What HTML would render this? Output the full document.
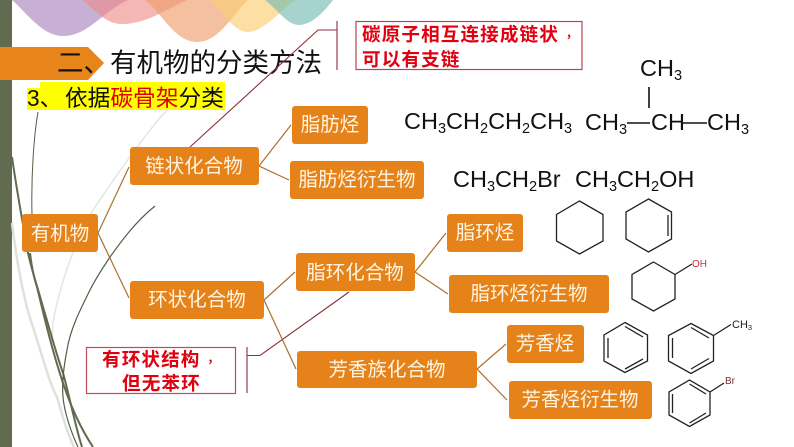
<!DOCTYPE html>
<html><head><meta charset="utf-8"><style>
html,body{margin:0;padding:0;background:#fff;width:794px;height:447px;overflow:hidden}
svg{display:block}
text{font-family:"Liberation Sans","Noto Sans CJK SC",sans-serif}
.n{fill:#fff5e4;font-size:19.5px;text-anchor:middle}
.r{fill:#e0000f;font-size:18.6px;font-weight:700;letter-spacing:1.1px}
.d{font-family:"Noto Sans CJK TC",sans-serif;font-size:12px}
.c{fill:#111;font-size:23.5px}
.c tspan.s{font-size:14.5px}
.b{fill:#e5831a}
.l{stroke:#a8702a;stroke-width:1.2;fill:none}
.m{stroke:#222;stroke-width:1.3;fill:none}
</style></head><body>
<svg width="794" height="447" viewBox="0 0 794 447" xmlns="http://www.w3.org/2000/svg">
<rect width="794" height="447" fill="#fff"/>
<!-- top decorative waves -->
<path d="M12 0C26 12 42 36 63 36C88 36 102 12 128 0Z" fill="#a77fbb" opacity=".62"/>
<path d="M82 0C94 8 104 24 122 24C146 24 165 10 187 0Z" fill="#ee8a86" opacity=".62"/>
<path d="M145 0C160 10 174 42 197 42C220 42 234 12 248 0Z" fill="#ee9f6f" opacity=".66"/>
<path d="M210 0C222 8 232 32 248 32C264 32 283 8 295 0Z" fill="#f9cf73" opacity=".66"/>
<path d="M265 0C276 8 287 25 299 25C313 25 327 8 333 0Z" fill="#6fb8af" opacity=".62"/>
<!-- left bar and curves -->
<rect x="0" y="0" width="12" height="447" fill="#616b4f"/>
<g fill="none">
<path d="M12 223C17 265 25 305 33 327C42 355 50 385 57 397C62 415 68 435 74 447" stroke="#dfe2da" stroke-width="2.5"/>
<path d="M167 110C150 128 120 170 93 210C80 232 60 280 53 323L52 340" stroke="#e4e6df" stroke-width="1.5"/>
<path d="M12 157C16 185 23 225 28 253C33 275 37 285 43 307C50 330 55 350 63 373C68 390 75 425 82 447" stroke="#616b4f" stroke-width="2"/>
<path d="M30 253C32 270 34 278 37 287C45 320 52 350 63 383C72 410 83 432 93 447" stroke="#616b4f" stroke-width="2"/>
<path d="M38 112C34 135 31 175 32 215" stroke="#555d45" stroke-width="1"/>
<path d="M155 206C135 222 120 243 110 257C100 272 95 280 90 290C80 310 70 330 67 350C63 370 62 385 63 397C64 410 70 430 78 447" stroke="#555d45" stroke-width="1.2"/>
</g>
<!-- title -->
<path d="M0 47H88L104 63L88 80H0Z" fill="#e8851a"/>
<text x="57" y="72" font-size="26.5" fill="#111">二、</text>
<text x="110" y="72" font-size="26.5" fill="#111">有机物的分类方法</text>
<path d="M40 82H225V110H27V88H40Z" fill="#ffff00"/>
<text x="27" y="106" font-size="22.7" fill="#111">3、</text>
<text x="65" y="106" font-size="22.7" fill="#111">依据<tspan fill="#e00000">碳骨架</tspan>分类</text>
<!-- callout top -->
<path d="M190 147L318 30H337M337 21V70" stroke="#8e2f38" stroke-width="1.1" fill="none"/>
<rect x="356" y="21.500" width="226" height="48" fill="#fff" stroke="#b4474f" stroke-width="1.2"/>
<text x="362" y="41" class="r">碳原子相互连接成链状<tspan class="d" dx="4">，</tspan></text>
<text x="362" y="66" class="r">可以有支链</text>
<!-- callout bottom -->
<path d="M349 292L260 355.500H247M247 347V393" stroke="#8e2f38" stroke-width="1.1" fill="none"/>
<rect x="86.500" y="347.500" width="149" height="46" fill="#fff" stroke="#c04a58" stroke-width="1.2"/>
<text x="102" y="366" class="r">有环状结构<tspan class="d" dx="4">，</tspan></text>
<text x="122" y="390" class="r">但无苯环</text>
<!-- tree lines -->
<path class="l" d="M129 167L98 233L129 298"/>
<path class="l" d="M291 125L259 166L289 180"/>
<path class="l" d="M295 272L264 300L296 369"/>
<path class="l" d="M446 233L415 272L448 294"/>
<path class="l" d="M506 344L477 369L507 400"/>
<!-- nodes -->
<rect class="b" x="22" y="214" width="76" height="38" rx="3"/><text class="n" x="60" y="240">有机物</text>
<rect class="b" x="130" y="147" width="129" height="38" rx="3"/><text class="n" x="194" y="172.500">链状化合物</text>
<rect class="b" x="130" y="281" width="134" height="38" rx="3"/><text class="n" x="197" y="306">环状化合物</text>
<rect class="b" x="292" y="106" width="76" height="38" rx="3"/><text class="n" x="330" y="131">脂肪烃</text>
<rect class="b" x="290" y="161" width="134" height="38" rx="3"/><text class="n" x="357" y="186">脂肪烃衍生物</text>
<rect class="b" x="296" y="253" width="119" height="38" rx="3"/><text class="n" x="355" y="279">脂环化合物</text>
<rect class="b" x="447" y="214" width="76" height="38" rx="3"/><text class="n" x="485" y="239">脂环烃</text>
<rect class="b" x="449" y="275" width="160" height="38" rx="3"/><text class="n" x="529" y="300">脂环烃衍生物</text>
<rect class="b" x="297" y="351" width="180" height="37" rx="3"/><text class="n" x="387" y="376">芳香族化合物</text>
<rect class="b" x="507" y="325" width="77" height="38" rx="3"/><text class="n" x="545" y="350">芳香烃</text>
<rect class="b" x="509" y="381" width="143" height="38" rx="3"/><text class="n" x="580" y="406">芳香烃衍生物</text>
<!-- formulas -->
<text class="c" x="404" y="129">CH<tspan class="s" dy="4">3</tspan><tspan dy="-4">CH</tspan><tspan class="s" dy="4">2</tspan><tspan dy="-4">CH</tspan><tspan class="s" dy="4">2</tspan><tspan dy="-4">CH</tspan><tspan class="s" dy="4">3</tspan></text>
<text class="c" x="585" y="130">CH<tspan class="s" dy="4">3</tspan></text>
<text class="c" x="651" y="130">CH</text>
<text class="c" x="707" y="130">CH<tspan class="s" dy="4">3</tspan></text>
<text class="c" x="640" y="76">CH<tspan class="s" dy="4">3</tspan></text>
<path d="M649 87V108M627 123H650M683 123H707" stroke="#111" stroke-width="1.600" fill="none"/>
<text class="c" x="453" y="187">CH<tspan class="s" dy="4">3</tspan><tspan dy="-4">CH</tspan><tspan class="s" dy="4">2</tspan><tspan dy="-4">Br</tspan></text>
<text class="c" x="575" y="187">CH<tspan class="s" dy="4">3</tspan><tspan dy="-4">CH</tspan><tspan class="s" dy="4">2</tspan><tspan dy="-4">OH</tspan></text>
<!-- rings -->
<path class="m" d="M579.500 201L603 214.500V241L579.500 254L556.500 241V214.500Z"/>
<path class="m" d="M648.500 199L671.500 212V239L648.500 252L626 239V212ZM668 215V236"/>
<path class="m" d="M653.500 262L675 274.500V299L653.500 311L632 299V274.500ZM675 274.500L692 264"/>
<text x="692" y="267" font-size="10" fill="#c03040">OH</text>
<path class="m" d="M625 322.500L647.500 335V361L625 372.500L604 361V335ZM625 326.500L643 337M643 359L625 369M608 338V358"/>
<path class="m" d="M691 323.500L713.500 335.500V361L691 373.500L668.500 361V335.500ZM691 327.500L709 338M709 358.500L691 369M672.500 338V358M713.500 335.500L731 324.500"/>
<text x="732" y="328" font-size="11" fill="#222">CH<tspan font-size="7.500" dy="2">3</tspan></text>
<path class="m" d="M689.500 380L710 392V415L689.500 426.500L669 415V392ZM689.500 384L706 394M706 413L689.500 423M672.500 394V413M710 392L724 383"/>
<text x="725" y="384" font-size="10" fill="#7a3030">Br</text>
</svg>
</body></html>
